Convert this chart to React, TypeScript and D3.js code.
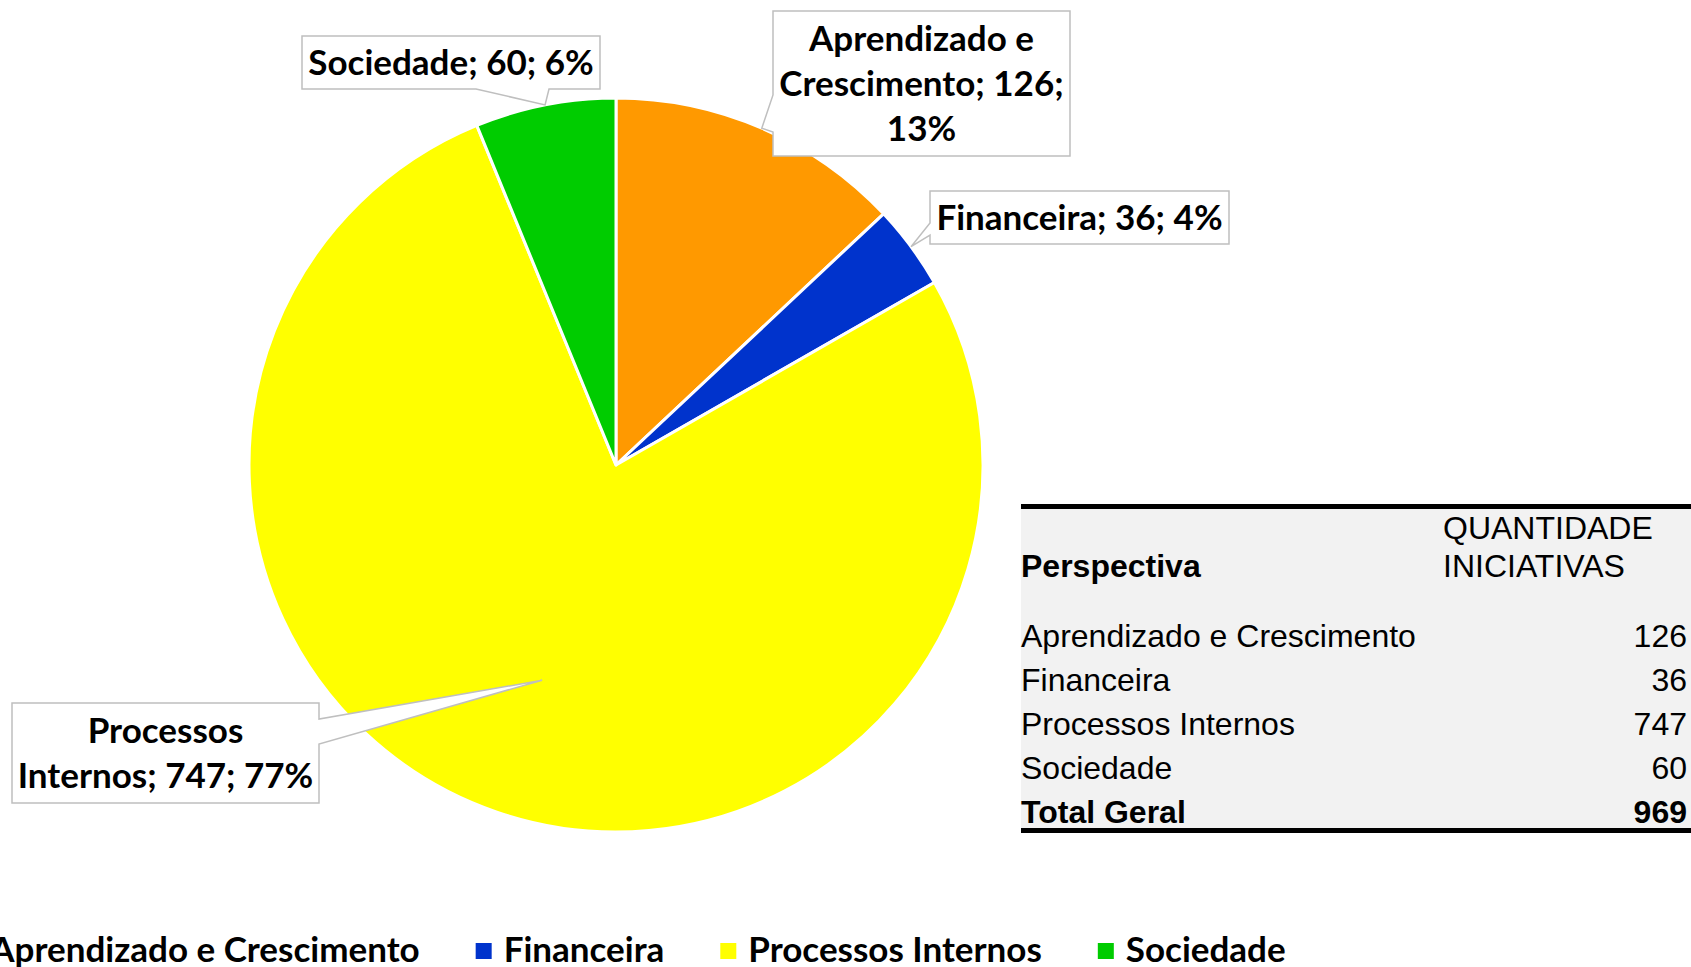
import * as d3 from "d3";

const categories = ["Aprendizado e Crescimento", "Financeira", "Processos Internos", "Sociedade"];
const values = [126, 36, 747, 60];
const colors = ["#FF9900", "#0033CC", "#FFFF00", "#00CC00"];
// words per label line (Excel wraps inside the callout box)
const labelBreaks = [[2, 4], [], [1], []];
const tableHeader = ["Perspectiva", "QUANTIDADE", "INICIATIVAS"];
const totalLabel = "Total Geral";

const W = 1691;
const H = 967;
const cx = 616;
const cy = 465;
const R = 367;

const labelFont = "Lato, 'Noto Sans', sans-serif";
const tableFont = "'Liberation Sans', Arial, sans-serif";
const labelSize = 35;
const lineH = 45;

// callout boxes, wedge side and where the pointer lands (fraction of radius)
const callouts = [
  { x: 773, y: 11, w: 297, h: 145, side: "left", a: 95, b: 132, tipK: 1 },
  { x: 930, y: 191, w: 299, h: 53, side: "left", a: 223, b: 235, tipK: 1 },
  { x: 12, y: 703, w: 307, h: 100, side: "right", a: 719, b: 744, tipK: 0.62 },
  { x: 302, y: 36, w: 298, h: 53, side: "bottom", a: 476, b: 549, tipK: 1 },
];

const calloutPath = (c, tip) => {
  const { x, y, w, h, side, a, b } = c;
  const [tx, ty] = tip;
  let p = `M${x},${y}H${x + w}`;
  if (side === "right") p += `V${a}L${tx},${ty}L${x + w},${b}`;
  p += `V${y + h}`;
  if (side === "bottom") p += `H${b}L${tx},${ty}L${a},${y + h}`;
  p += `H${x}`;
  if (side === "left") p += `V${b}L${tx},${ty}L${x},${a}`;
  return p + "Z";
};

let ctx = null;
const measure = (text, font) => {
  if (!ctx) ctx = document.createElement("canvas").getContext("2d");
  ctx.font = font;
  return ctx.measureText(text).width;
};

export default function App() {
  const total = d3.sum(values);
  const arcs = d3.pie().sort(null).value((d) => d)(values);
  const arc = d3.arc().innerRadius(0).outerRadius(R);

  const labels = categories.map((cat, i) => {
    const pct = Math.round((values[i] / total) * 100);
    const words = `${cat}; ${values[i]}; ${pct}%`.split(" ");
    const cuts = [0, ...labelBreaks[i], words.length];
    const lines = [];
    for (let k = 0; k < cuts.length - 1; k++) lines.push(words.slice(cuts[k], cuts[k + 1]).join(" "));
    return lines;
  });

  // legend: marker + gap + text, items centred under the pie
  const legFont = `bold ${labelSize}px ${labelFont}`;
  const mk = 16;
  const legWidths = categories.map((c) => mk + 12 + measure(c, legFont));
  const legTotal = d3.sum(legWidths) + 56 * (categories.length - 1);
  let lx = 624 - legTotal / 2;
  const legendItems = categories.map((c, i) => {
    const item = { x: lx, c, i };
    lx += legWidths[i] + 56;
    return item;
  });

  const rowBase = [647, 691, 735, 779];

  return (
    <svg width={W} height={H} style={{ position: "absolute", left: 0, top: 0, background: "#fff" }}>
      <g transform={`translate(${cx},${cy})`}>
        {arcs.map((d, i) => (
          <path key={i} d={arc(d)} fill={colors[i]} stroke="#fff" strokeWidth={3} strokeLinejoin="round" />
        ))}
      </g>

      {callouts.map((c, i) => {
        const k = R * c.tipK;
        const [px, py] = d3.arc().innerRadius(k).outerRadius(k).centroid(arcs[i]);
        const tip = [cx + px, cy + py];
        const lines = labels[i];
        const mid = c.y + c.h / 2;
        return (
          <g key={i}>
            <path d={calloutPath(c, tip)} fill="#fff" stroke="#BFBFBF" strokeWidth={1.5} />
            {lines.map((t, j) => (
              <text
                key={j}
                x={c.x + c.w / 2}
                y={mid + (j - (lines.length - 1) / 2) * lineH + 12}
                textAnchor="middle"
                fontFamily={labelFont}
                fontWeight="bold"
                fontSize={labelSize}
                fill="#000"
              >
                {t}
              </text>
            ))}
          </g>
        );
      })}

      {/* table */}
      <g fontFamily={tableFont} fontSize={32} fill="#000">
        <rect x={1021} y={508} width={W - 1021} height={322} fill="#F2F2F2" />
        <line x1={1021} x2={W} y1={506.5} y2={506.5} stroke="#000" strokeWidth={5} />
        <line x1={1021} x2={W} y1={830.5} y2={830.5} stroke="#000" strokeWidth={5} />
        <text x={1021} y={577} fontWeight="bold">{tableHeader[0]}</text>
        <text x={1443} y={539}>{tableHeader[1]}</text>
        <text x={1443} y={577}>{tableHeader[2]}</text>
        {categories.map((c, i) => (
          <g key={c}>
            <text x={1021} y={rowBase[i]}>{c}</text>
            <text x={1687} y={rowBase[i]} textAnchor="end">{values[i]}</text>
          </g>
        ))}
        <text x={1021} y={823} fontWeight="bold">{totalLabel}</text>
        <text x={1687} y={823} fontWeight="bold" textAnchor="end">{total}</text>
      </g>

      {/* legend */}
      {legendItems.map(({ x, c, i }) => (
        <g key={c}>
          <rect x={x} y={943} width={mk} height={mk} fill={colors[i]} />
          <text x={x + mk + 12} y={962} fontFamily={labelFont} fontWeight="bold" fontSize={labelSize} fill="#000">
            {c}
          </text>
        </g>
      ))}
    </svg>
  );
}
